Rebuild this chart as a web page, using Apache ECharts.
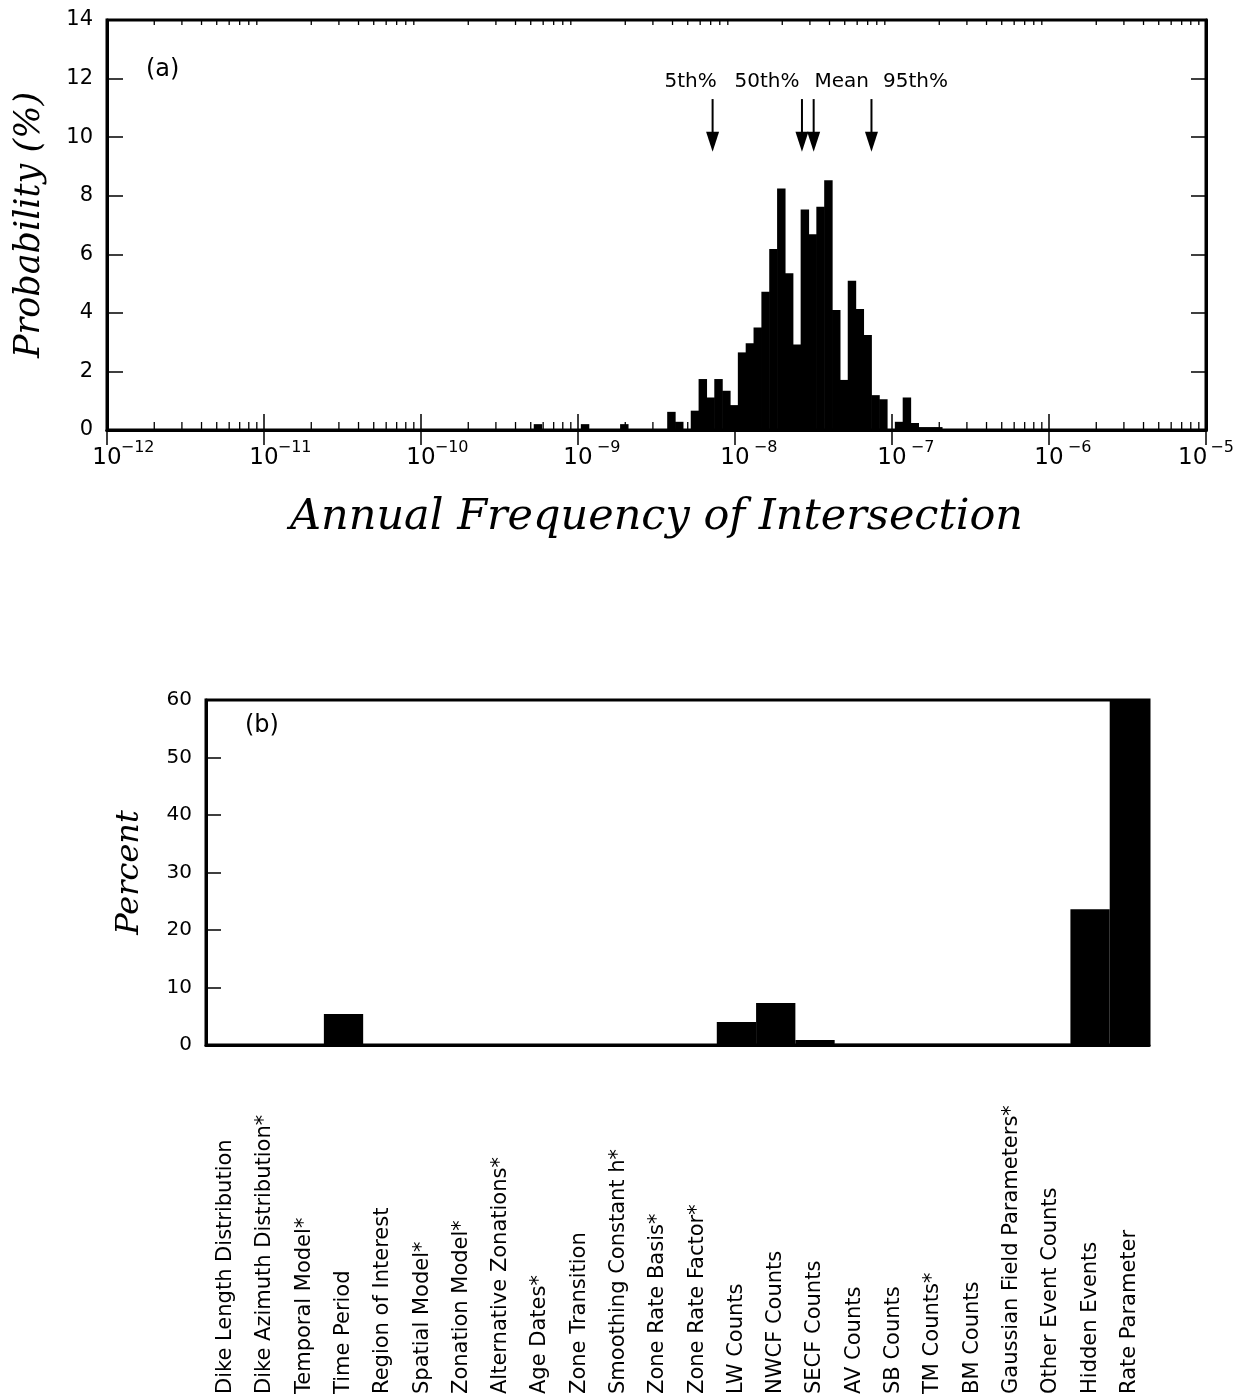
<!DOCTYPE html>
<html>
<head>
<meta charset="utf-8">
<script src="https://cdn.jsdelivr.net/npm/echarts@6/dist/echarts.min.js"></script>
<style>
  html, body { margin: 0; padding: 0; background: #fff; }
  #chart { width: 1240px; height: 1397px; }
</style>
</head>
<body>
<div id="chart"></div>
<script>
// ---------- Panel (a): histogram of annual frequency of intersection ----------
// lower bin edge, as log10 of annual frequency
const histBinStartLog = [
  -9.28, -8.98, -8.73, -8.43, -8.38,
  -8.28, -8.23, -8.18, -8.13, -8.08, -8.03, -7.98, -7.93, -7.88, -7.83,
  -7.78, -7.73, -7.68, -7.63, -7.58, -7.53, -7.48, -7.43, -7.38, -7.33,
  -7.28, -7.23, -7.18, -7.13, -7.08,
  -6.98, -6.93, -6.88, -6.83, -6.78, -6.73
];
// probability (%) of each bin
const histProb = [
  0.2, 0.2, 0.2, 0.62, 0.28,
  0.66, 1.74, 1.11, 1.74, 1.34, 0.85, 2.65, 2.96, 3.5, 4.72,
  6.18, 8.25, 5.35, 2.92, 7.53, 6.68, 7.62, 8.53, 4.1, 1.71,
  5.1, 4.13, 3.24, 1.19, 1.05,
  0.28, 1.11, 0.24, 0.1, 0.1, 0.1
];
const binWidthDecades = 0.05;

// percentile markers
const pctNames = ['5th%', '50th%', 'Mean', '95th%'];
const pctValues = [7.2e-9, 2.67e-8, 3.17e-8, 7.4e-8];

// ---------- Panel (b): sensitivity contributions ----------
const sensCategories = [
  'Dike Length Distribution', 'Dike Azimuth Distribution*', 'Temporal Model*',
  'Time Period', 'Region of Interest', 'Spatial Model*', 'Zonation Model*',
  'Alternative Zonations*', 'Age Dates*', 'Zone Transition', 'Smoothing Constant h*',
  'Zone Rate Basis*', 'Zone Rate Factor*', 'LW Counts', 'NWCF Counts', 'SECF Counts',
  'AV Counts', 'SB Counts', 'TM Counts*', 'BM Counts', 'Gaussian Field Parameters*',
  'Other Event Counts', 'Hidden Events', 'Rate Parameter'
];
const sensPercent = [
  0, 0, 0, 5.4, 0, 0, 0, 0, 0, 0, 0, 0, 0, 4.0, 7.3, 0.85,
  0.2, 0.2, 0.2, 0.2, 0.2, 0.2, 23.6, 60
];

// ---------- styling helpers ----------
const FONT_SANS = 'DejaVu Sans';
const FONT_SERIF = 'DejaVu Serif';
const pctLabelShift = [-22, -35, 28, 44];
const minorTickVals = [];
for (let d = -12; d < -5; d++) {
  for (let m = 2; m <= 9; m++) minorTickVals.push([m * Math.pow(10, d), 0]);
}

const chart = echarts.init(document.getElementById('chart'), null, { renderer: 'canvas' });

const frameLine = { show: true, lineStyle: { color: '#000', width: 3 } };

const option = {
  animation: false,
  backgroundColor: '#fff',
  grid: [
    { left: 107, right: 34, top: 20, height: 410, containLabel: false, outerBoundsMode: 'none',
      show: true, borderColor: '#000', borderWidth: 3, backgroundColor: 'transparent' },
    { left: 206, right: 91, top: 700, height: 345, containLabel: false, outerBoundsMode: 'none',
      show: true, borderColor: '#000', borderWidth: 3, backgroundColor: 'transparent' }
  ],
  xAxis: [
    {
      gridIndex: 0, type: 'log', logBase: 10, min: 1e-12, max: 1e-5, splitNumber: 7,
      position: 'bottom',
      axisLine: frameLine,
      axisTick: { show: true, inside: true, length: 16, lineStyle: { color: '#000', width: 1.5 } },
      splitLine: { show: false },
      name: 'Annual Frequency of Intersection',
      nameLocation: 'middle', nameGap: 66,
      nameTextStyle: { fontFamily: FONT_SERIF, fontStyle: 'italic', fontSize: 43, color: '#000' },
      axisLabel: {
        margin: 10, color: '#000',
        formatter: function (v) {
          const e = Math.round(Math.log10(v));
          const ex = (e < 0 ? '\u2212' : '') + Math.abs(e);
          if (e === -5) return '{t|10}{s2|' + ex + '}';
          return '{p|}{t|10}{s|' + ex + '}';
        },
        rich: {
          p: { width: 32 },
          t: { fontFamily: FONT_SANS, fontSize: 23, color: '#000', lineHeight: 30, verticalAlign: 'bottom' },
          s: { fontFamily: FONT_SANS, fontSize: 16, color: '#000', width: 32, align: 'left', lineHeight: 18, verticalAlign: 'top' },
          s2: { fontFamily: FONT_SANS, fontSize: 16, color: '#000', lineHeight: 18, verticalAlign: 'top', padding: [0, 0, 0, 3] }
        }
      }
    },
    {
      gridIndex: 0, type: 'log', logBase: 10, min: 1e-12, max: 1e-5, splitNumber: 7,
      position: 'top',
      axisLine: frameLine,
      axisTick: { show: true, inside: true, length: 15, lineStyle: { color: '#000', width: 1.5 } },
      axisLabel: { show: false },
      splitLine: { show: false }
    },
    {
      gridIndex: 1, type: 'category', data: sensCategories,
      axisLine: frameLine,
      axisTick: { show: false },
      splitLine: { show: false },
      axisLabel: {
        interval: 0, rotate: 90, align: 'left', margin: 349,
        fontFamily: FONT_SANS, fontSize: 21, color: '#000'
      }
    }
  ],
  yAxis: [
    {
      gridIndex: 0, type: 'value', min: 0, max: 14, interval: 2,
      axisLine: frameLine,
      axisTick: { show: true, inside: true, length: 16, lineStyle: { color: '#000', width: 1.5 } },
      splitLine: { show: false },
      axisLabel: { margin: 14, fontFamily: FONT_SANS, fontSize: 21, color: '#000' },
      name: 'Probability (%)', nameLocation: 'middle', nameGap: 60,
      nameTextStyle: { fontFamily: FONT_SERIF, fontStyle: 'italic', fontSize: 35, color: '#000' }
    },
    {
      gridIndex: 0, type: 'value', min: 0, max: 14, interval: 2, position: 'right',
      axisLine: frameLine,
      axisTick: { show: true, inside: true, length: 15, lineStyle: { color: '#000', width: 1.5 } },
      splitLine: { show: false },
      axisLabel: { show: false }
    },
    {
      gridIndex: 1, type: 'value', min: 0, max: 60, interval: 10,
      axisLine: frameLine,
      axisTick: { show: true, inside: true, length: 15, lineStyle: { color: '#000', width: 1.5 } },
      splitLine: { show: false },
      axisLabel: { margin: 14, fontFamily: FONT_SANS, fontSize: 20, color: '#000' },
      name: 'Percent', nameLocation: 'middle', nameGap: 60,
      nameTextStyle: { fontFamily: FONT_SERIF, fontStyle: 'italic', fontSize: 32, color: '#000' }
    }
  ],
  graphic: [
    { type: 'text', left: 146, top: 58, style: { text: '(a)', fontFamily: FONT_SANS, fontSize: 24, fill: '#000' } },
    { type: 'text', left: 245, top: 714, style: { text: '(b)', fontFamily: FONT_SANS, fontSize: 24, fill: '#000' } }
  ],
  series: [
    {
      type: 'custom', xAxisIndex: 0, yAxisIndex: 0,
      data: histBinStartLog.map((e, i) => [Math.pow(10, e), Math.pow(10, e + binWidthDecades), histProb[i]]),
      encode: { x: [0, 1], y: 2 },
      renderItem: function (params, api) {
        const a = api.coord([api.value(0), api.value(2)]);
        const b = api.coord([api.value(1), 0]);
        return {
          type: 'rect',
          shape: { x: a[0] - 0.3, y: a[1], width: b[0] - a[0] + 0.6, height: b[1] - a[1] },
          style: { fill: '#000' }
        };
      },
      z: 3
    },
    {
      type: 'custom', xAxisIndex: 0, yAxisIndex: 0,
      data: minorTickVals,
      encode: { x: 0, y: 1 },
      silent: true,
      renderItem: function (params, api) {
        const b = api.coord([api.value(0), 0]);
        const t = api.coord([api.value(0), 14]);
        return {
          type: 'group',
          children: [
            { type: 'line', shape: { x1: b[0], y1: b[1], x2: b[0], y2: b[1] - 8 }, style: { stroke: '#000', lineWidth: 1.3 } },
            { type: 'line', shape: { x1: t[0], y1: t[1], x2: t[0], y2: t[1] + 5 }, style: { stroke: '#000', lineWidth: 1.3 } }
          ]
        };
      },
      z: 2
    },
    {
      type: 'custom', xAxisIndex: 0, yAxisIndex: 0,
      data: pctValues.map((v, i) => [v, i]),
      encode: { x: 0 },
      renderItem: function (params, api) {
        const v = api.value(0);
        const i = api.value(1);
        const tip = api.coord([v, 9.5]);
        const tail = api.coord([v, 11.3]);
        const headLen = 20, headHalf = 6.5;
        return {
          type: 'group',
          children: [
            { type: 'line', shape: { x1: tip[0], y1: tail[1], x2: tip[0], y2: tip[1] - headLen + 2 }, style: { stroke: '#000', lineWidth: 2 } },
            { type: 'polygon', shape: { points: [[tip[0] - headHalf, tip[1] - headLen], [tip[0] + headHalf, tip[1] - headLen], [tip[0], tip[1]]] }, style: { fill: '#000' } },
            { type: 'text', x: tip[0] + pctLabelShift[i], y: tail[1] - 17,
              style: { text: pctNames[i], fontFamily: FONT_SANS, fontSize: 20, fill: '#000', align: 'center', verticalAlign: 'middle' } }
          ]
        };
      },
      z: 4
    },
    {
      type: 'bar', xAxisIndex: 2, yAxisIndex: 2,
      data: sensPercent,
      barCategoryGap: '0%',
      itemStyle: { color: '#000' },
      z: 3
    }
  ]
};
chart.setOption(option);
</script>
</body>
</html>
